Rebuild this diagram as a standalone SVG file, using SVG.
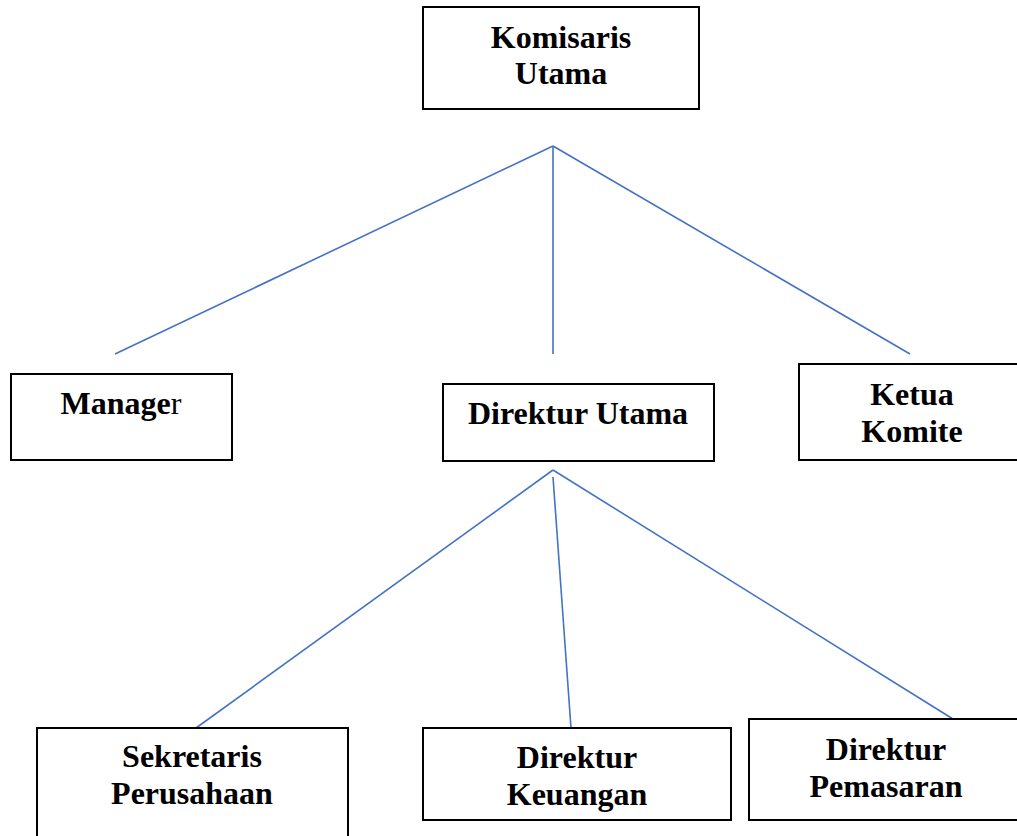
<svg xmlns="http://www.w3.org/2000/svg" width="1017" height="836" viewBox="0 0 1017 836">
<style>
.box{fill:#ffffff;stroke:#000000;stroke-width:2}
.t{font-family:"Liberation Serif","Times New Roman",serif;font-weight:bold;font-size:32px;fill:#000000;text-anchor:middle}
.c{stroke:#4472C4;stroke-width:1.6;fill:none}
</style>
<rect x="0" y="0" width="1017" height="836" fill="#ffffff"/>
<g id="connectors">
<line class="c" x1="553" y1="146" x2="115" y2="354"/>
<line class="c" x1="553" y1="146" x2="553" y2="354"/>
<line class="c" x1="553" y1="146" x2="910" y2="354"/>
<line class="c" x1="553" y1="470" x2="196" y2="728"/>
<line class="c" x1="553" y1="477" x2="571" y2="728"/>
<line class="c" x1="553" y1="470" x2="953" y2="719"/>
</g>
<g id="komisaris-utama">
<rect class="box" x="423" y="7" width="276" height="102"/>
<text class="t" x="561" y="48">Komisaris</text>
<text class="t" x="561" y="84">Utama</text>
</g>
<g id="manager">
<rect class="box" x="11" y="374" width="221" height="86"/>
<text class="t" x="121" y="414">Manage<tspan font-weight="normal">r</tspan></text>
</g>
<g id="direktur-utama">
<rect class="box" x="443" y="384" width="271" height="77"/>
<text class="t" x="578" y="424">Direktur Utama</text>
</g>
<g id="ketua-komite">
<rect class="box" x="799" y="364" width="222" height="96"/>
<text class="t" x="912" y="405">Ketua</text>
<text class="t" x="912" y="442">Komite</text>
</g>
<g id="sekretaris-perusahaan">
<rect class="box" x="37" y="728" width="311" height="120"/>
<text class="t" x="192" y="767">Sekretaris</text>
<text class="t" x="192" y="804">Perusahaan</text>
</g>
<g id="direktur-keuangan">
<rect class="box" x="423" y="728" width="308" height="92"/>
<text class="t" x="577" y="768">Direktur</text>
<text class="t" x="577" y="805">Keuangan</text>
</g>
<g id="direktur-pemasaran">
<rect class="box" x="749" y="719" width="280" height="101"/>
<text class="t" x="886" y="760">Direktur</text>
<text class="t" x="886" y="797">Pemasaran</text>
</g>
</svg>
